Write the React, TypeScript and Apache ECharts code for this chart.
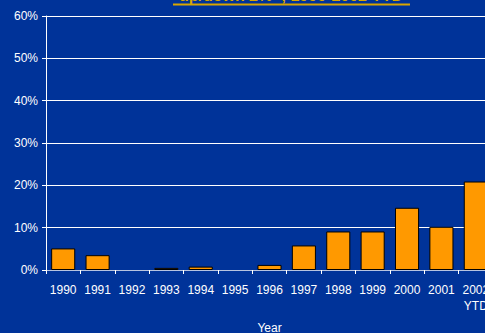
import React, { useEffect, useRef } from "react";
import * as echarts from "echarts";

const years = ["1990", "1991", "1992", "1993", "1994", "1995", "1996", "1997", "1998", "1999", "2000", "2001", "2002\nYTD"];
const pctValues = [5.1, 3.5, 0, 0.5, 0.8, 0, 1.2, 5.8, 9.1, 9.1, 14.7, 10.2, 20.9];
const titleText = "up/down 2%+, 1990-2002 YTD";

export default function App() {
  const ref = useRef<HTMLDivElement>(null);

  useEffect(() => {
    document.body.style.margin = "0";
    document.body.style.overflow = "hidden";
    const chart = echarts.init(ref.current!, null, { renderer: "svg" });
    const font = "Liberation Sans, Arial, sans-serif";
    chart.setOption({
      animation: false,
      backgroundColor: "#003399",
      textStyle: { fontFamily: font },
      grid: { left: 46, right: -8, top: 16, bottom: 63, containLabel: false, outerBoundsMode: "none" },
      graphic: [
        {
          type: "text",
          x: 291,
          y: 3,
          style: {
            text: titleText,
            fill: "#d9a600",
            font: "bold 16px " + font,
            textAlign: "center",
            textVerticalAlign: "bottom",
          },
        },
        {
          type: "line",
          shape: { x1: 173, y1: 4.5, x2: 410, y2: 4.5 },
          style: { stroke: "#d9a600", lineWidth: 2 },
        },
      ],
      xAxis: {
        type: "category",
        data: years,
        name: "Year",
        nameLocation: "middle",
        nameGap: 52,
        nameTextStyle: { color: "#ffffff", fontSize: 12, fontFamily: font },
        axisLine: { lineStyle: { color: "#b8c4e0", width: 1 } },
        axisTick: { show: true, length: 4, interval: 0, lineStyle: { color: "#ffffff" } },
        axisLabel: { color: "#ffffff", fontSize: 12, margin: 12, lineHeight: 16, interval: 0, fontFamily: font },
      },
      yAxis: {
        type: "value",
        min: 0,
        max: 60,
        interval: 10,
        axisLine: { show: true, lineStyle: { color: "#ffffff", width: 1 } },
        axisTick: { show: true, length: 4, lineStyle: { color: "#ffffff" } },
        axisLabel: { color: "#ffffff", fontSize: 12, margin: 8, formatter: "{value}%", fontFamily: font },
        splitLine: { show: true, lineStyle: { color: "#ffffff", width: 1 } },
      },
      series: [
        {
          type: "bar",
          data: pctValues.map((v) => (v === 0 ? { value: v, itemStyle: { borderWidth: 0 } } : v)),
          barCategoryGap: "30%",
          itemStyle: { color: "#ff9900", borderColor: "#000000", borderWidth: 1 },
        },
      ],
    });
    return () => chart.dispose();
  }, []);

  return <div ref={ref} style={{ width: 485, height: 333 }} />;
}
